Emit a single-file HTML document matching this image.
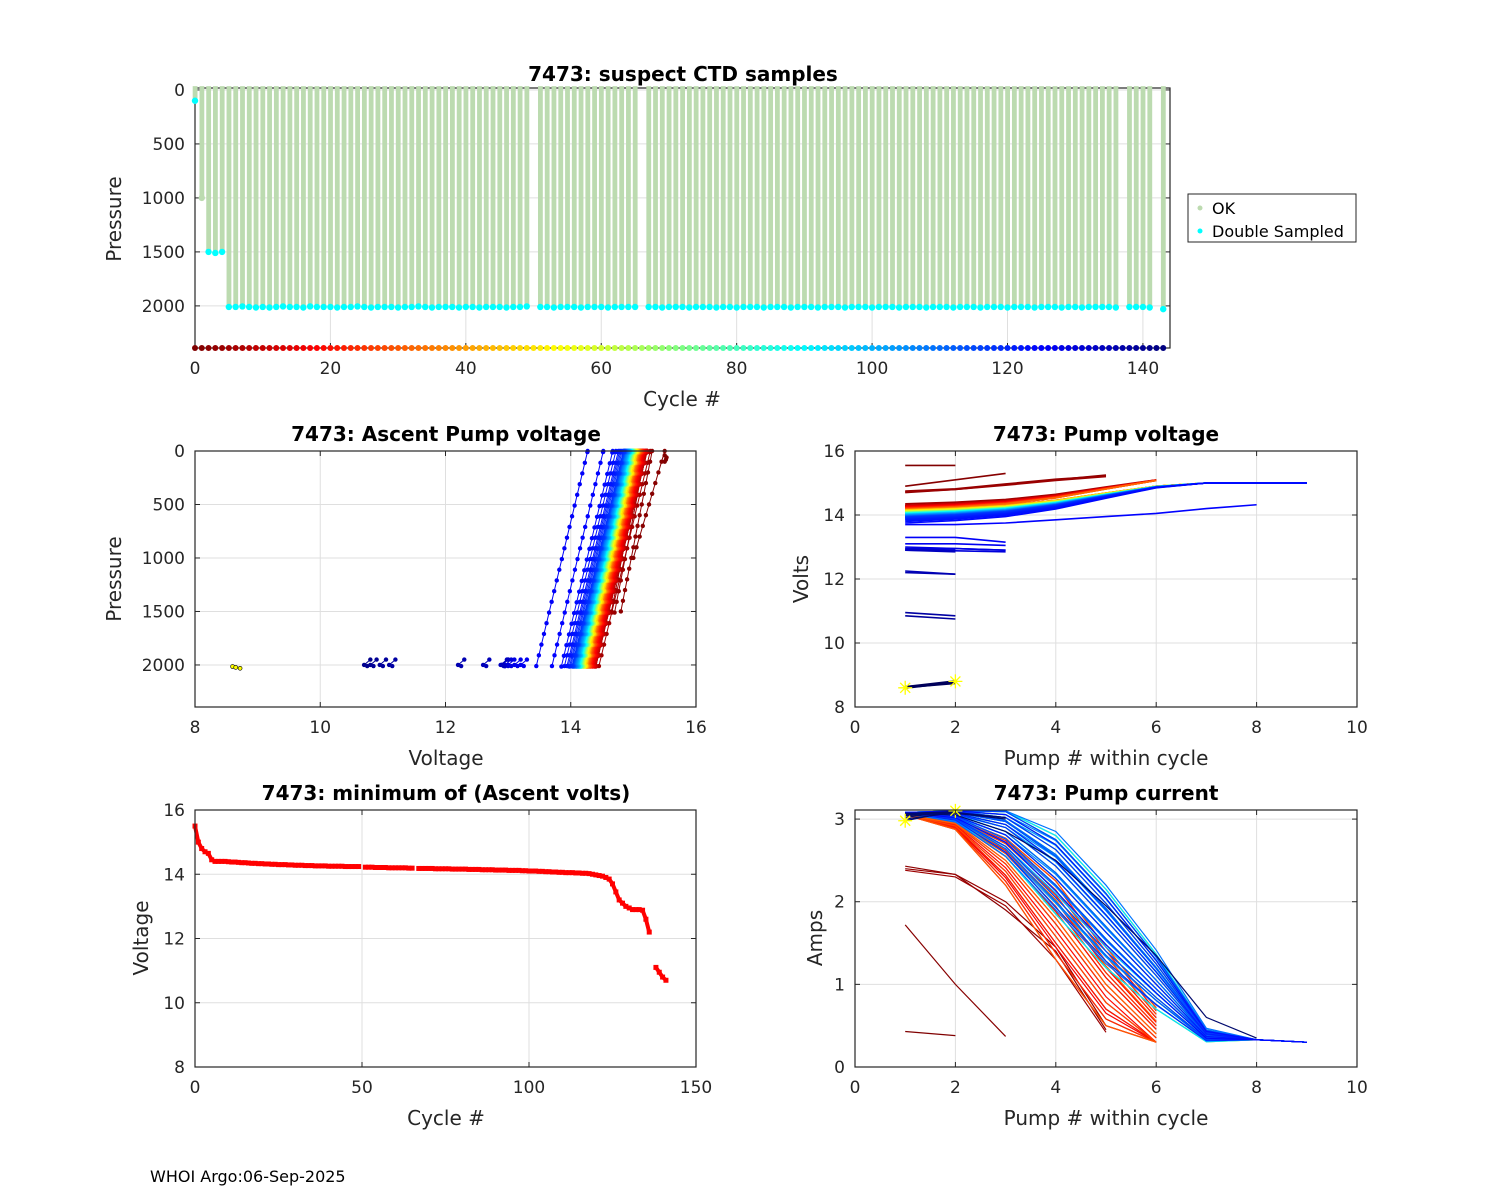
<!DOCTYPE html>
<html>
<head>
<meta charset="utf-8">
<style>
  html,body{margin:0;padding:0;background:#fff;}
  svg{display:block;font-family:"DejaVu Sans","Liberation Sans",sans-serif;}
  .tick{font-size:17px;fill:#262626;}
  .lab{font-size:20px;fill:#262626;}
  .ttl{font-size:20px;font-weight:bold;fill:#000;}
</style>
</head>
<body>
<svg id="fig" width="1500" height="1200" viewBox="0 0 1500 1200">
  <rect x="0" y="0" width="1500" height="1200" fill="#fff"/>
  <g id="layer"></g>
  <text class="ttl" x="683" y="81" text-anchor="middle">7473: suspect CTD samples</text>
  <text class="ttl" x="446" y="441" text-anchor="middle">7473: Ascent Pump voltage</text>
  <text class="ttl" x="1106" y="441" text-anchor="middle">7473: Pump voltage</text>
  <text class="ttl" x="446" y="800" text-anchor="middle">7473: minimum of (Ascent volts)</text>
  <text class="ttl" x="1106" y="800" text-anchor="middle">7473: Pump current</text>
  <text class="lab" x="682" y="406" text-anchor="middle">Cycle #</text>
  <text class="lab" transform="translate(121,219) rotate(-90)" text-anchor="middle">Pressure</text>
  <text class="lab" x="446" y="765" text-anchor="middle">Voltage</text>
  <text class="lab" transform="translate(121,579) rotate(-90)" text-anchor="middle">Pressure</text>
  <text class="lab" x="1106" y="765" text-anchor="middle">Pump # within cycle</text>
  <text class="lab" transform="translate(808,579) rotate(-90)" text-anchor="middle">Volts</text>
  <text class="lab" x="446" y="1125" text-anchor="middle">Cycle #</text>
  <text class="lab" transform="translate(148,938) rotate(-90)" text-anchor="middle">Voltage</text>
  <text class="lab" x="1106" y="1125" text-anchor="middle">Pump # within cycle</text>
  <text class="lab" transform="translate(822,938) rotate(-90)" text-anchor="middle">Amps</text>
  <g>
    <rect x="1188" y="194" width="168" height="48" fill="#fff" stroke="#262626" stroke-width="1"/>
    <circle cx="1200" cy="208" r="2.5" fill="#bddbb0"/>
    <text x="1212" y="214" font-size="16" fill="#000">OK</text>
    <circle cx="1200" cy="231" r="2.5" fill="#00ffff"/>
    <text x="1212" y="237" font-size="16" fill="#000">Double Sampled</text>
  </g>
  <text x="150" y="1182" font-size="16" fill="#000">WHOI Argo:06-Sep-2025</text>
</svg>
<script>
const nCycles = 144;
const maxP = [100,1000,1500,1510,1500,2010,2010,2005,2010,2015,2010,2015,2010,2005,2010,2010,2015,2005,2010,2010,
2010,2015,2010,2010,2005,2010,2015,2010,2010,2010,2015,2010,2010,2005,2010,2015,2010,2010,2010,2015,
2010,2010,2015,2010,2010,2010,2015,2010,2010,2005,null,2010,2010,2015,2010,2010,2010,2015,2010,2010,
2010,2015,2010,2010,2010,2010,null,2010,2010,2015,2010,2010,2010,2015,2010,2010,2010,2015,2010,2010,
2015,2010,2010,2010,2015,2010,2010,2010,2015,2010,2010,2010,2015,2010,2010,2010,2015,2010,2010,2010,
2015,2010,2010,2010,2015,2010,2010,2010,2015,2010,2010,2010,2015,2010,2010,2010,2015,2010,2010,2010,
2015,2010,2010,2010,2015,2010,2010,2010,2015,2010,2010,2015,2010,2010,2010,2010,2015,null,2010,2010,
2010,2015,null,2030];
const minV = [15.5,15.0,14.8,14.7,14.65,14.45,14.4,14.4,14.4,14.4,
14.39,14.38,14.38,14.37,14.36,14.36,14.35,14.34,14.34,14.33,
14.33,14.32,14.32,14.31,14.31,14.3,14.3,14.3,14.29,14.29,
14.28,14.28,14.28,14.27,14.27,14.27,14.26,14.26,14.26,14.26,
14.25,14.25,14.25,14.25,14.25,14.24,14.24,14.24,14.24,14.24,
null,14.22,14.22,14.22,14.21,14.21,14.21,14.21,14.2,14.2,
14.2,14.2,14.2,14.2,14.19,14.19,null,14.18,14.18,14.18,
14.18,14.18,14.17,14.17,14.17,14.17,14.17,14.16,14.16,14.16,
14.16,14.16,14.15,14.15,14.15,14.15,14.14,14.14,14.14,14.14,
14.13,14.13,14.13,14.13,14.12,14.12,14.12,14.12,14.11,14.11,
14.1,14.1,14.1,14.09,14.09,14.08,14.08,14.07,14.07,14.06,
14.06,14.05,14.05,14.05,14.04,14.04,14.03,14.03,14.02,14.0,
13.98,13.96,13.94,13.9,13.85,13.7,13.45,13.2,13.1,13.0,
12.95,12.9,12.9,12.9,12.88,12.6,12.2,null,11.1,10.95,
10.8,10.7,null,null];
const pumpCountSegs = [[5,32,6],[33,100,9],[101,110,8],[111,124,9]];
const curT6 = [3.05,2.95,2.5,1.8,1.0,0.4];
const curT7 = [3.06,3.0,2.7,2.1,1.4,0.75,0.35];
const curT8 = [3.07,3.04,2.85,2.4,1.75,1.1,0.4,0.33];
const curT9 = [3.08,3.05,2.85,2.35,1.7,1.05,0.38,0.33,0.3];
const voltRise = [0,0.06,0.16,0.35,0.62,0.88,1,1,1];
const voltEndShort = 15.2, voltEndLong = 15.0;
const spread = [0,-0.35,0.2,-0.15,0.4,-0.3,0.08,0.28,-0.42,0.14,-0.07,0.34,-0.22,0.45,-0.5,0.22];
const specialCyc = [0,1,2,3,4,125,126,127,128,129,130,131,133,134,135,136,138,139,140,141,143];
const specialVolt = [[15.55,15.55],[14.9,15.1,15.3],[14.7,14.8,14.95,15.1,15.25],[14.75,14.82,14.97,15.12,15.22],[14.72,14.8,14.93,15.08,15.2],
 [13.7,13.7,13.75,13.85,13.95,14.05,14.2,14.32],[13.3,13.3,13.15],[13.1,13.1,13.05],[12.95,12.95,12.9],[13.0,12.95,12.9],[12.9,12.88,12.85],[12.95,12.9],[12.92,12.88],[12.9,12.85],
 [12.25,12.15],[12.2,12.15],[10.95,10.85],[10.85,10.75],[8.62,8.75],[8.6,8.78],[8.62,8.8]];
const specialCur = [[0.43,0.38],[1.72,1.0,0.37],[2.43,2.33,1.9,1.4,0.45],[2.4,2.33,2.0,1.45,0.5],[2.38,2.3,1.95,1.3,0.42],
 [3.07,3.05,2.85,2.5,1.95,1.35,0.6,0.35],[3.05,3.08,3.0],[3.06,3.07,3.02],[3.05,3.08],[3.06,3.07,3.0],[3.05,3.08,3.02],[3.06,3.08],[3.07,3.09],[3.05,3.08],
 [3.06,3.08],[3.06,3.09],[3.05,3.09],[3.04,3.08],[3.0,3.08],[3.02,3.1],[2.98,3.1]];
const topXTicks = [0,20,40,60,80,100,120,140];
const topYTicks = [0,500,1000,1500,2000];
const ascXTicks = [8,10,12,14,16];
const ascYTicks = [0,500,1000,1500,2000];
const pumpXTicks = [0,2,4,6,8,10];
const voltYTicks = [8,10,12,14,16];
const minXTicks = [0,50,100,150];
const minYTicks = [8,10,12,14,16];
const curYTicks = [0,1,2,3];

const NS = "http://www.w3.org/2000/svg";
const layer = document.getElementById('layer');
function mk(tag, attrs, parent){
  const e = document.createElementNS(NS, tag);
  for (const k in attrs) e.setAttribute(k, attrs[k]);
  (parent||layer).appendChild(e);
  return e;
}
function jet(t){
  const c = v => Math.max(0, Math.min(1, v));
  const r = c(1.5 - Math.abs(4*t-3)), g = c(1.5 - Math.abs(4*t-2)), b = c(1.5 - Math.abs(4*t-1));
  return 'rgb('+Math.round(r*255)+','+Math.round(g*255)+','+Math.round(b*255)+')';
}
function cycColor(c){ return jet(1 - c/(nCycles-1)); }
function pumpCount(c){
  for (const s of pumpCountSegs) if (c>=s[0] && c<=s[1]) return s[2];
  return 0;
}
function makeAxes(name, x0,y0,x1,y1, xmin,xmax,ymin,ymax, yrev, xt, yt){
  const sx = v => x0 + (v-xmin)/(xmax-xmin)*(x1-x0);
  const sy = yrev ? (v => y0 + (v-ymin)/(ymax-ymin)*(y1-y0)) : (v => y1 - (v-ymin)/(ymax-ymin)*(y1-y0));
  const g = mk('g', {});
  
  
  mk('rect', {x:x0,y:y0,width:x1-x0,height:y1-y0,fill:'#fff'}, g);
  const grid = mk('g', {stroke:'#dfdfdf','stroke-width':1}, g);
  
  
  xt.forEach(v => { mk('line',{x1:sx(v),x2:sx(v),y1:y0,y2:y1},grid); });
  yt.forEach(v => { mk('line',{x1:x0,x2:x1,y1:sy(v),y2:sy(v)},grid); });
  const data = mk('g', {}, g);
  
  
  const frame = mk('g', {}, g);
  
  
  mk('rect',{x:x0,y:y0,width:x1-x0,height:y1-y0,fill:'none',stroke:'#262626','stroke-width':1.2},frame);
  xt.forEach(v => {
    const X = sx(v);
    mk('line',{x1:X,x2:X,y1:y1,y2:y1-5,stroke:'#262626'},frame);
    mk('line',{x1:X,x2:X,y1:y0,y2:y0+5,stroke:'#262626'},frame);
    const t = mk('text',{x:X,y:y1+26,'text-anchor':'middle',class:'tick'},frame);
    t.textContent = v;
    
    
  });
  yt.forEach(v => {
    const Y = sy(v);
    mk('line',{x1:x0,x2:x0+5,y1:Y,y2:Y,stroke:'#262626'},frame);
    mk('line',{x1:x1,x2:x1-5,y1:Y,y2:Y,stroke:'#262626'},frame);
    const t = mk('text',{x:x0-10,y:Y+6,'text-anchor':'end',class:'tick'},frame);
    t.textContent = v;
    
    
  });
  return {sx, sy, data, frame};
}
function star(g, x, y, col){
  const s = 7;
  mk('path',{d:`M${x-s},${y}H${x+s}M${x},${y-s}V${y+s}M${x-5},${y-5}L${x+5},${y+5}M${x-5},${y+5}L${x+5},${y-5}`,stroke:col,'stroke-width':1.3,fill:'none'},g);
}

// TOP
(function(){
  const A = makeAxes('ctd-samples-plot', 195,88,1170,348, 0,144,-18,2390, true, topXTicks, topYTicks);
  layer.appendChild(A.frame);
  const bars = mk('g',{});
  
  
  for (let c=0;c<nCycles;c++){
    const p = maxP[c];
    if (p==null) continue;
    const r = mk('rect',{x:A.sx(c)-2.3,y:A.sy(-35),width:4.8,height:A.sy(p)-A.sy(-35),fill:'#bcdbb0'},bars);
    
    
  }
  for (let c=0;c<nCycles;c++){
    const p = maxP[c];
    if (p==null) continue;
    const d = mk('circle',{cx:A.sx(c),cy:A.sy(p),r:3.2,fill:(c===1?'#bcdbb0':'#00ffff')},bars);
    
    
  }
  for (let c=0;c<nCycles;c++){
    const d = mk('circle',{cx:A.sx(c),cy:A.sy(2390),r:3,fill:cycColor(c)},bars);
    
    
  }
})();

// MIDDLE LEFT
(function(){
  const A = makeAxes('ascent-voltage-plot', 195,451,696,707, 8,16,0,2393, true, ascXTicks, ascYTicks);
  for (let c=0;c<nCycles;c++){
    const v0 = minV[c], p = maxP[c];
    if (v0==null || p==null) continue;
    const col = cycColor(c);
    const pts = [];
    if (c===0){
      pts.push([v0,100],[v0+0.02,80],[v0+0.03,60],[v0,40]);
    } else if (v0 >= 13.3){
      const top = (c<5) ? 0.5 : 0.82;
      for (let q=p; q>=0; q-=100){ pts.push([v0 + top*(1 - q/p), q]); }
      if (pts[pts.length-1][1] !== 0) pts.push([v0+top, 0]);
    } else {
      pts.push([v0+0.1,1950],[v0,2000],[v0+0.05,2010]);
    }
    const pl = mk('polyline',{points:pts.map(a=>A.sx(a[0])+','+A.sy(a[1])).join(' '),fill:'none',stroke:col,'stroke-width':1},A.data);
    
    
    pts.forEach(a=>{
      const d = mk('circle',{cx:A.sx(a[0]),cy:A.sy(a[1]),r:2.2,fill:col},A.data);
      
      
    });
  }
  const lowC = [8.6,8.65,8.72];
  lowC.forEach((v,i)=>{
    const d = mk('circle',{cx:A.sx(v),cy:A.sy(2015+i*8),r:2,fill:'#ffff00',stroke:'#000','stroke-width':0.6},A.data);
    
    
  });
  layer.appendChild(A.frame);
})();

function cycleCurves(c){
  const si = specialCyc.indexOf(c);
  if (si>=0) return {v:specialVolt[si], a:specialCur[si]};
  const n = pumpCount(c);
  if (!n || minV[c]==null) return null;
  const v1 = minV[c]-0.1;
  const vEnd = n<=7 ? voltEndShort : voltEndLong;
  const v = [], a = [];
  const tpl = n===6?curT6:n===7?curT7:n===8?curT8:curT9;
  const w = [0,0.15,0.6,1,1,0.7,0.15,0,0];
  const off = spread[c % spread.length];
  for (let k=0;k<n;k++){
    v.push(v1 + (vEnd - v1)*voltRise[k]);
    a.push(Math.min(3.1, Math.max(0.3, tpl[k] + off*w[k])));
  }
  return {v, a};
}

// MIDDLE RIGHT
(function(){
  const A = makeAxes('pump-voltage-plot', 855,451,1357,707, 0,10,8,16, false, pumpXTicks, voltYTicks);
  for (let c=0;c<nCycles;c++){
    const cc = cycleCurves(c);
    if (!cc) continue;
    const col = c>=140 ? '#00005a' : cycColor(c);
    const pl = mk('polyline',{points:cc.v.map((v,k)=>A.sx(k+1)+','+A.sy(v)).join(' '),fill:'none',stroke:col,'stroke-width':c>=140?2.5:1.6},A.data);
    
    
  }
  star(A.data, A.sx(1), A.sy(8.6), '#ffff00');
  star(A.data, A.sx(2), A.sy(8.8), '#ffff00');
  layer.appendChild(A.frame);
})();

// BOTTOM LEFT
(function(){
  const A = makeAxes('min-ascent-volts-plot', 195,810,696,1067, 0,150,8,16, false, minXTicks, minYTicks);
  let seg = [];
  const flush = () => {
    if (seg.length>1){
      const pl = mk('polyline',{points:seg.join(' '),fill:'none',stroke:'#ff0000','stroke-width':4,'stroke-linejoin':'round'},A.data);
      
      
    }
    seg = [];
  };
  for (let c=0;c<nCycles;c++){
    if (minV[c]==null){ flush(); continue; }
    seg.push(A.sx(c)+','+A.sy(minV[c]));
    const r = mk('rect',{x:A.sx(c)-2.5,y:A.sy(minV[c])-2.5,width:5,height:5,fill:'#ff0000'},A.data);
    
    
  }
  flush();
  layer.appendChild(A.frame);
})();

// BOTTOM RIGHT
(function(){
  const A = makeAxes('pump-current-plot', 855,810,1357,1067, 0,10,0,3.11, false, pumpXTicks, curYTicks);
  for (let c=0;c<nCycles;c++){
    const cc = cycleCurves(c);
    if (!cc) continue;
    const col = c>=125 ? '#000a6e' : cycColor(c);
    const pl = mk('polyline',{points:cc.a.map((v,k)=>A.sx(k+1)+','+A.sy(v)).join(' '),fill:'none',stroke:col,'stroke-width':1.2},A.data);
    
    
  }
  star(A.data, A.sx(1), A.sy(2.98), '#ffff00');
  star(A.data, A.sx(2), A.sy(3.1), '#ffff00');
  layer.appendChild(A.frame);
})();
</script>
</body>
</html>
